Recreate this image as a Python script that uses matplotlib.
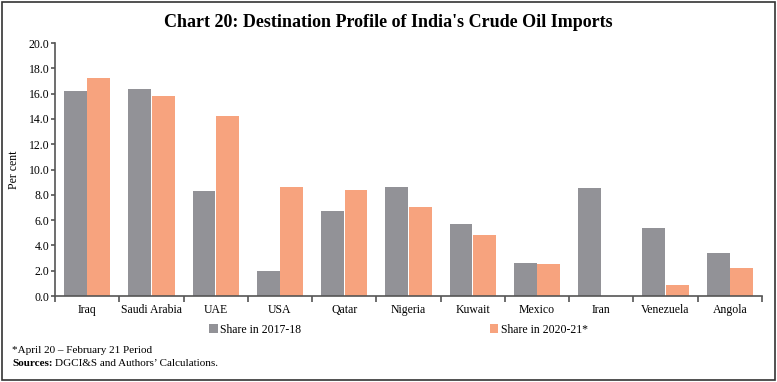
import numpy as np
import matplotlib
matplotlib.use('Agg')
import matplotlib.pyplot as plt
from matplotlib.patches import Rectangle

plt.rcParams['font.family'] = ['Liberation Serif', 'DejaVu Serif']

countries = ['Iraq', 'Saudi Arabia', 'UAE', 'USA', 'Qatar', 'Nigeria',
             'Kuwait', 'Mexico', 'Iran', 'Venezuela', 'Angola']
share_2017 = [16.2, 16.4, 8.3, 2.0, 6.7, 8.6, 5.7, 2.6, 8.5, 5.4, 3.4]
share_2020 = [17.2, 15.8, 14.2, 8.6, 8.4, 7.0, 4.8, 2.5, 0.0, 0.9, 2.2]

gray = '#929297'
orange = '#f7a37e'
axis_col = '#555555'

fig = plt.figure(figsize=(7.77, 3.82), dpi=100)
ax = fig.add_axes([0.0708, 0.2251, 0.9099, 0.6623])

x = np.arange(len(countries))
w = 0.355
ax.bar(x - w / 2 - 0.005, share_2017, w, color=gray, label='Share in 2017-18')
ax.bar(x + w / 2 + 0.005, share_2020, w, color=orange, label='Share in 2020-21*')

ax.set_xlim(-0.5, len(countries) - 0.5)
ax.set_ylim(0, 20)
ax.set_yticks(np.arange(0, 20.1, 2))
ax.set_yticklabels([f'{v:.1f}' for v in np.arange(0, 20.1, 2)], fontsize=8.5)
ax.set_xticks(x)
ax.set_xticklabels(countries, fontsize=8.5)
ax.tick_params(axis='x', length=0, pad=6)
ax.set_xticks(np.arange(-0.5, len(countries)), minor=True)
ax.tick_params(axis='x', which='minor', length=4, color=axis_col, width=1.2, direction='out')
ax.tick_params(axis='y', length=3, color=axis_col, width=1.2, direction='out', pad=1)
for s in ['top', 'right']:
    ax.spines[s].set_visible(False)
for s in ['left', 'bottom']:
    ax.spines[s].set_color(axis_col)
    ax.spines[s].set_linewidth(1.2)
ax.set_ylabel('Per cent', fontsize=8.5, labelpad=6)

fig.legend(loc='center', bbox_to_anchor=(0.513, 0.137), ncol=2, frameon=False,
           fontsize=8.5, handlelength=0.7, handleheight=0.7, handletextpad=0.2,
           columnspacing=16)

fig.text(0.5, 0.94, "Chart 20: Destination Profile of India's Crude Oil Imports",
         ha='center', va='center', fontsize=13, fontweight='bold')
fig.text(0.016, 0.083, '*April 20 \u2013 February 21 Period', fontsize=8, va='center')
fig.text(0.016, 0.048, 'Sources:', fontsize=8, fontweight='bold', va='center')
fig.text(0.071, 0.048, 'DGCI&S and Authors\u2019 Calculations.', fontsize=8, va='center')

fig.patches.append(Rectangle((0.003, 0.005), 0.994, 0.99, transform=fig.transFigure,
                             fill=False, edgecolor='#333333', linewidth=1.2))

fig.savefig('out.png', dpi=100)
